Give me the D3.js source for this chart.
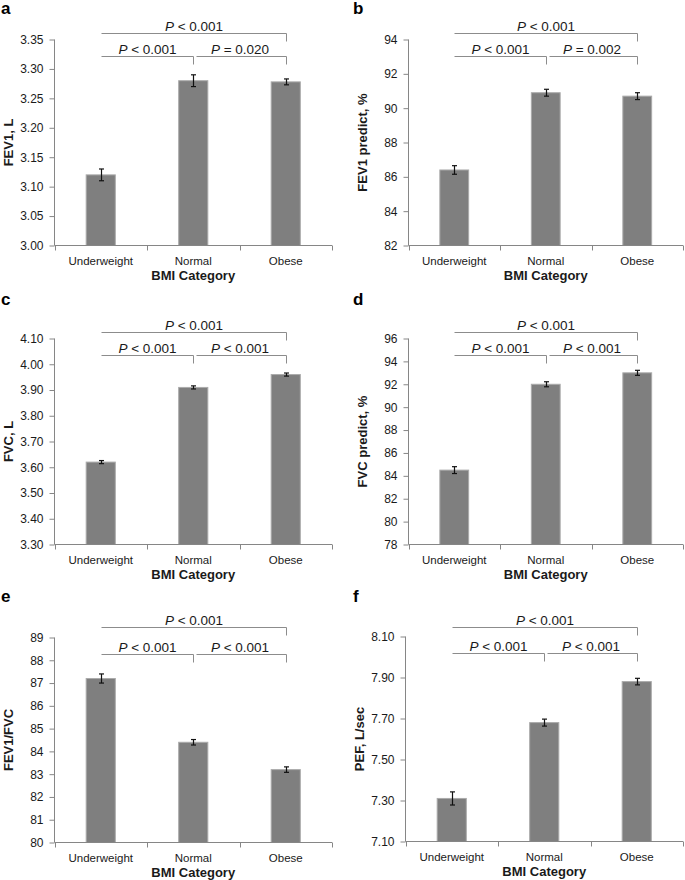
<!DOCTYPE html>
<html>
<head>
<meta charset="utf-8">
<script src="https://cdn.jsdelivr.net/npm/d3@7"></script>
<style>
  html, body { margin: 0; padding: 0; background: #fff; }
  svg { display: block; font-family: "Liberation Sans", Arial, sans-serif; }
</style>
</head>
<body>
<svg id="chart" width="685" height="880"></svg>
<script>
// ---------- DATA ----------
const categories = ["Underweight", "Normal", "Obese"];

const fev1Values = [3.12, 3.28, 3.278];
const fev1Errors = [0.01, 0.01, 0.005];
const fev1Ticks = [3.00, 3.05, 3.10, 3.15, 3.20, 3.25, 3.30, 3.35];
const fev1P = [["<", "0.001"], ["=", "0.020"], ["<", "0.001"]];

const fev1PredValues = [86.4, 90.9, 90.7];
const fev1PredErrors = [0.25, 0.2, 0.2];
const fev1PredTicks = [82, 84, 86, 88, 90, 92, 94];
const fev1PredP = [["<", "0.001"], ["=", "0.002"], ["<", "0.001"]];

const fvcValues = [3.62, 3.91, 3.96];
const fvcErrors = [0.006, 0.006, 0.006];
const fvcTicks = [3.30, 3.40, 3.50, 3.60, 3.70, 3.80, 3.90, 4.00, 4.10];
const fvcP = [["<", "0.001"], ["<", "0.001"], ["<", "0.001"]];

const fvcPredValues = [84.5, 92.0, 93.0];
const fvcPredErrors = [0.3, 0.22, 0.22];
const fvcPredTicks = [78, 80, 82, 84, 86, 88, 90, 92, 94, 96];
const fvcPredP = [["<", "0.001"], ["<", "0.001"], ["<", "0.001"]];

const ratioValues = [87.2, 84.4, 83.2];
const ratioErrors = [0.2, 0.12, 0.12];
const ratioTicks = [80, 81, 82, 83, 84, 85, 86, 87, 88, 89];
const ratioP = [["<", "0.001"], ["<", "0.001"], ["<", "0.001"]];

const pefValues = [7.31, 7.68, 7.88];
const pefErrors = [0.032, 0.017, 0.016];
const pefTicks = [7.10, 7.30, 7.50, 7.70, 7.90, 8.10];
const pefP = [["<", "0.001"], ["<", "0.001"], ["<", "0.001"]];

// ---------- LAYOUT ----------
const panels = [
  { letter: "a", title: "FEV1, L", values: fev1Values, errors: fev1Errors, ticks: fev1Ticks, fmt: ".2f", p: fev1P,
    lx: 1, ly: 14, x0: 54.5, x1: 332, yTop: 39.5, yBot: 245.5, bTop: 33.5, bLow: 56.5 },
  { letter: "b", title: "FEV1 predict, %", values: fev1PredValues, errors: fev1PredErrors, ticks: fev1PredTicks, fmt: "d", p: fev1PredP,
    lx: 353, ly: 14, x0: 408.5, x1: 683, yTop: 39.5, yBot: 245.5, bTop: 33.5, bLow: 56.5 },
  { letter: "c", title: "FVC, L", values: fvcValues, errors: fvcErrors, ticks: fvcTicks, fmt: ".2f", p: fvcP,
    lx: 1, ly: 305, x0: 54.5, x1: 332, yTop: 338.5, yBot: 544.5, bTop: 332.5, bLow: 355.5 },
  { letter: "d", title: "FVC predict, %", values: fvcPredValues, errors: fvcPredErrors, ticks: fvcPredTicks, fmt: "d", p: fvcPredP,
    lx: 353, ly: 305, x0: 408.5, x1: 683, yTop: 338.5, yBot: 544.5, bTop: 332.5, bLow: 355.5 },
  { letter: "e", title: "FEV1/FVC", values: ratioValues, errors: ratioErrors, ticks: ratioTicks, fmt: "d", p: ratioP,
    lx: 1, ly: 602, x0: 54.5, x1: 332, yTop: 637.5, yBot: 842.5, bTop: 627.5, bLow: 654.5 },
  { letter: "f", title: "PEF, L/sec", values: pefValues, errors: pefErrors, ticks: pefTicks, fmt: ".2f", p: pefP,
    lx: 353, ly: 602, x0: 405.5, x1: 683, yTop: 636.5, yBot: 841.5, bTop: 627.5, bLow: 653.5 }
];

const svg = d3.select("#chart");
const axisColor = "#868686";
const textColor = "#1a1a1a";

panels.forEach(P => {
  const g = svg.append("g");
  const x = d3.scaleBand().domain(categories).range([P.x0, P.x1]).padding(0);
  const y = d3.scaleLinear().domain([P.ticks[0], P.ticks[P.ticks.length - 1]]).range([P.yBot, P.yTop]);
  const bw = x.bandwidth() * 0.315;
  const cx = c => x(c) + x.bandwidth() / 2;

  // panel letter
  g.append("text").attr("x", P.lx).attr("y", P.ly)
    .attr("font-size", 17).attr("font-weight", "bold").attr("fill", "#000").text(P.letter);

  // bars
  g.selectAll("rect.bar").data(categories).join("rect")
    .attr("x", c => cx(c) - bw / 2)
    .attr("y", (c, i) => y(P.values[i]))
    .attr("width", bw)
    .attr("height", (c, i) => P.yBot - y(P.values[i]))
    .attr("fill", "#7f7f7f")
    .attr("stroke", "#ababab")
    .attr("stroke-width", 1);

  // error bars
  const eg = g.append("g").attr("stroke", "#111").attr("stroke-width", 1.2);
  categories.forEach((c, i) => {
    const hi = y(P.values[i] + P.errors[i]);
    const lo = y(P.values[i] - P.errors[i]);
    const xc = Math.round(cx(c)) + 0.5;
    eg.append("line").attr("x1", xc).attr("x2", xc).attr("y1", hi).attr("y2", lo);
    eg.append("line").attr("x1", xc - 2.5).attr("x2", xc + 2.5).attr("y1", hi).attr("y2", hi);
    eg.append("line").attr("x1", xc - 2.5).attr("x2", xc + 2.5).attr("y1", lo).attr("y2", lo);
  });

  // y axis
  const yAxis = d3.axisLeft(y).tickValues(P.ticks).tickSize(5).tickPadding(6)
    .tickFormat(d3.format(P.fmt));
  const ya = g.append("g").attr("transform", `translate(${P.x0},0)`).call(yAxis);
  ya.select(".domain").attr("stroke", axisColor).attr("d", `M-0,${P.yTop}V${P.yBot}`);
  ya.selectAll(".tick line").attr("stroke", axisColor);
  ya.selectAll(".tick text").attr("font-size", 12).attr("fill", textColor)
    .attr("font-family", "Liberation Sans, Arial, sans-serif");

  // x axis
  const xa = g.append("g").attr("transform", `translate(0,${P.yBot})`).call(d3.axisBottom(x).tickSize(0).tickPadding(11));
  xa.select(".domain").attr("stroke", axisColor).attr("d", `M${P.x0},0H${P.x1}`);
  xa.selectAll(".tick text").attr("font-size", 11.5).attr("fill", textColor)
    .attr("font-family", "Liberation Sans, Arial, sans-serif");
  // category boundary tick marks
  const bounds = categories.map(c => x(c)).concat([P.x1]);
  xa.selectAll("line.bnd").data(bounds).join("line")
    .attr("x1", d => Math.round(d) + 0.5).attr("x2", d => Math.round(d) + 0.5)
    .attr("y1", 0).attr("y2", 5).attr("stroke", axisColor);

  // x title
  g.append("text").attr("x", (P.x0 + P.x1) / 2).attr("y", P.yBot + 34.5)
    .attr("text-anchor", "middle").attr("font-size", 13).attr("font-weight", "bold")
    .attr("fill", textColor).text("BMI Category");

  // y title
  g.append("text")
    .attr("transform", `translate(${P.x0 - 42},${(P.yTop + P.yBot) / 2}) rotate(-90)`)
    .attr("text-anchor", "middle").attr("font-size", 13).attr("font-weight", "bold")
    .attr("fill", textColor).text(P.title);

  // significance brackets
  const c0 = Math.round(cx(categories[0])) + 0.5;
  const c1 = Math.round(cx(categories[1])) + 0.5;
  const c2 = Math.round(cx(categories[2])) + 0.5;
  const br = g.append("g").attr("stroke", "#8c8c8c").attr("fill", "none").attr("stroke-width", 1);
  const drop = 8;
  br.append("path").attr("d", `M${c0},${P.bTop}H${c2}V${P.bTop + drop}`);
  br.append("path").attr("d", `M${c0},${P.bLow}H${c1}V${P.bLow + drop}`);
  br.append("path").attr("d", `M${c1 + 3},${P.bLow}H${c2}V${P.bLow + drop}`);

  const labels = [
    { xm: (c0 + c1) / 2, yb: P.bLow - 2.5, v: P.p[0] },
    { xm: (c1 + c2) / 2, yb: P.bLow - 2.5, v: P.p[1] },
    { xm: (c0 + c2) / 2, yb: P.bTop - 2.5, v: P.p[2] }
  ];
  labels.forEach(L => {
    const t = g.append("text").attr("x", L.xm).attr("y", L.yb)
      .attr("text-anchor", "middle").attr("font-size", 13.5).attr("fill", textColor);
    t.append("tspan").attr("font-style", "italic").text("P");
    t.append("tspan").text(` ${L.v[0]} ${L.v[1]}`);
  });
});
</script>
</body>
</html>
